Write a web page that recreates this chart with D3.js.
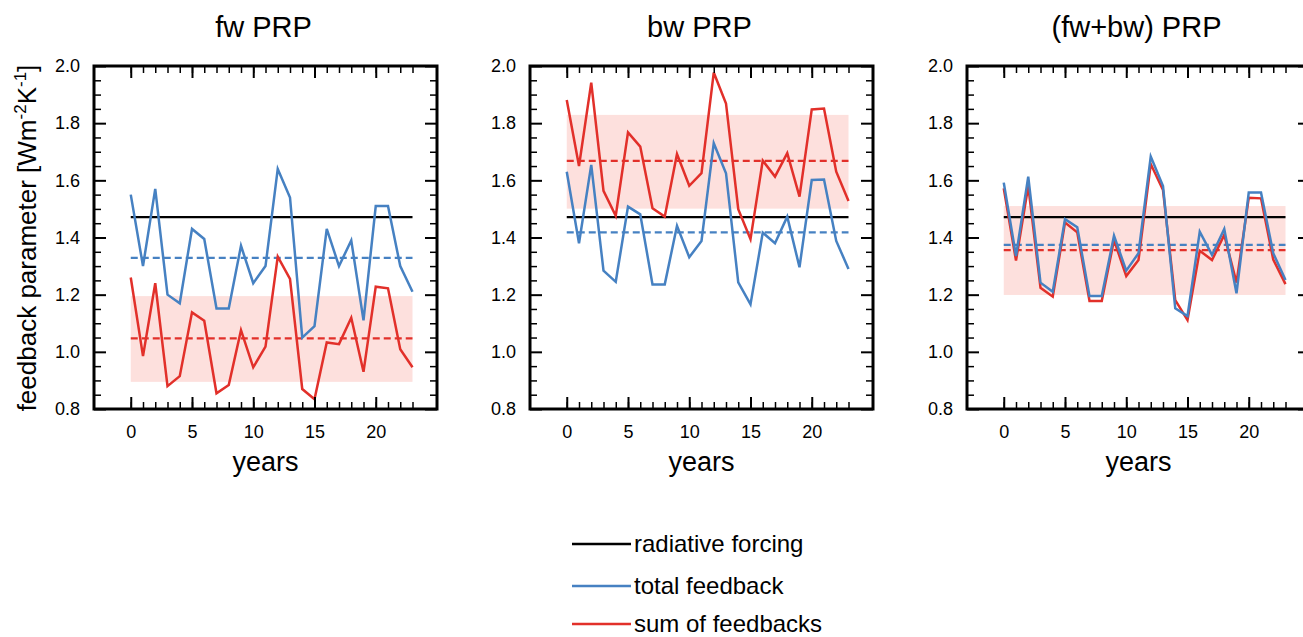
<!DOCTYPE html>
<html>
<head>
<meta charset="utf-8">
<script src="https://cdn.jsdelivr.net/npm/d3@7"></script>
<style>
  html, body { margin: 0; padding: 0; background: #fff; }
  svg { display: block; font-family: "Liberation Sans", Arial, Helvetica, sans-serif; }
</style>
</head>
<body>
<svg id="chart" width="1303" height="637"></svg>
<script>
// ---------------- data ----------------
const years = [0,1,2,3,4,5,6,7,8,9,10,11,12,13,14,15,16,17,18,19,20,21,22,23];
const panelTitles = ["fw PRP", "bw PRP", "(fw+bw) PRP"];

const fwTotal = [1.55,1.30,1.57,1.20,1.17,1.43,1.395,1.152,1.152,1.371,1.24,1.30,1.64,1.54,1.05,1.09,1.43,1.30,1.39,1.11,1.51,1.51,1.30,1.21];
const fwSum   = [1.26,0.985,1.24,0.88,0.915,1.138,1.109,0.855,0.884,1.076,0.946,1.018,1.333,1.255,0.87,0.834,1.033,1.027,1.119,0.93,1.228,1.222,1.009,0.946];

const bwTotal = [1.63,1.38,1.654,1.284,1.245,1.508,1.481,1.236,1.236,1.441,1.331,1.388,1.73,1.625,1.243,1.166,1.417,1.38,1.473,1.296,1.601,1.603,1.388,1.29];
const bwSum   = [1.881,1.65,1.942,1.563,1.476,1.768,1.718,1.502,1.473,1.692,1.581,1.625,1.977,1.869,1.499,1.394,1.669,1.613,1.695,1.543,1.848,1.851,1.63,1.528];

const fwbwTotal = [1.592,1.335,1.613,1.242,1.21,1.464,1.436,1.195,1.195,1.406,1.284,1.345,1.683,1.58,1.152,1.125,1.42,1.339,1.43,1.205,1.557,1.557,1.345,1.251];
const fwbwSum   = [1.572,1.319,1.58,1.224,1.193,1.452,1.418,1.178,1.178,1.391,1.265,1.321,1.657,1.566,1.181,1.111,1.354,1.321,1.409,1.242,1.539,1.537,1.323,1.237];

const forcing   = [1.471, 1.471, 1.471];
const totalMean = [1.329, 1.418, 1.374];
const sumMean   = [1.047, 1.668, 1.356];
const shadeLow  = [0.895, 1.501, 1.199];
const shadeHigh = [1.195, 1.829, 1.510];

const xMajorTicks = [0, 5, 10, 15, 20];
const yMajorTicks = [0.8, 1.0, 1.2, 1.4, 1.6, 1.8, 2.0];
const yMinorTicks = [0.85,0.9,0.95,1.05,1.1,1.15,1.25,1.3,1.35,1.45,1.5,1.55,1.65,1.7,1.75,1.85,1.9,1.95];

const legendItems = ["radiative forcing", "total feedback", "sum of feedbacks"];

const totals = [fwTotal, bwTotal, fwbwTotal];
const sums = [fwSum, bwSum, fwbwSum];

// ---------------- style ----------------
const BLUE = "#4681c2";
const RED = "#e2302a";
const SHADE = "#fde0dd";
const legendColors = ["#000000", BLUE, RED];

const panelLefts = [94, 530, 967];
const plotW = 343, plotTop = 66, plotBottom = 409;

const svg = d3.select("#chart");

const y = d3.scaleLinear().domain([0.8, 2.0]).range([plotBottom, plotTop]);

panelLefts.forEach((left, p) => {
  const x = d3.scaleLinear().domain([-3, 25]).range([left, left + plotW]);
  const g = svg.append("g");
  const x0 = years[0], x1 = years[years.length - 1];

  // shaded band
  g.append("rect")
    .attr("x", x(x0)).attr("width", x(x1) - x(x0))
    .attr("y", y(shadeHigh[p])).attr("height", y(shadeLow[p]) - y(shadeHigh[p]))
    .attr("fill", SHADE);

  // dashed means
  [[totalMean[p], BLUE], [sumMean[p], RED]].forEach(([v, c]) => {
    g.append("line")
      .attr("x1", x(x0)).attr("x2", x(x1))
      .attr("y1", y(v)).attr("y2", y(v))
      .attr("stroke", c).attr("stroke-width", 2.3)
      .attr("stroke-dasharray", "7,4");
  });

  // forcing line
  g.append("line")
    .attr("x1", x(x0)).attr("x2", x(x1))
    .attr("y1", y(forcing[p])).attr("y2", y(forcing[p]))
    .attr("stroke", "#000").attr("stroke-width", 2.3);

  const line = d3.line().x((d, i) => x(years[i])).y(d => y(d));
  g.append("path").datum(sums[p])
    .attr("d", line).attr("fill", "none")
    .attr("stroke", RED).attr("stroke-width", 2.5).attr("stroke-linejoin", "miter");
  g.append("path").datum(totals[p])
    .attr("d", line).attr("fill", "none")
    .attr("stroke", BLUE).attr("stroke-width", 2.5).attr("stroke-linejoin", "miter");

  // axes (ticks inward)
  const tickStyle = sel => {
    sel.select(".domain").remove();
    sel.selectAll("line").attr("stroke", "#000").attr("stroke-width", 2);
  };
  const minorStyle = sel => {
    sel.select(".domain").remove();
    sel.selectAll("line").attr("stroke", "#000").attr("stroke-width", 1.5);
    sel.selectAll("text").remove();
  };

  // bottom
  g.append("g").attr("transform", `translate(0,${plotBottom})`)
    .call(d3.axisBottom(x).tickValues(years).tickSize(-7)).call(minorStyle);
  g.append("g").attr("transform", `translate(0,${plotBottom})`)
    .call(d3.axisBottom(x).tickValues(xMajorTicks).tickSize(-12).tickPadding(16).tickFormat(d3.format("d")))
    .call(tickStyle)
    .selectAll("text").attr("font-size", 18).attr("fill", "#000")
    .attr("font-family", "Liberation Sans, Arial, sans-serif");
  // top
  g.append("g").attr("transform", `translate(0,${plotTop})`)
    .call(d3.axisTop(x).tickValues(years).tickSize(-7)).call(minorStyle);
  g.append("g").attr("transform", `translate(0,${plotTop})`)
    .call(d3.axisTop(x).tickValues(xMajorTicks).tickSize(-12)).call(tickStyle)
    .selectAll("text").remove();
  // left
  g.append("g").attr("transform", `translate(${left},0)`)
    .call(d3.axisLeft(y).tickValues(yMinorTicks).tickSize(-7)).call(minorStyle);
  g.append("g").attr("transform", `translate(${left},0)`)
    .call(d3.axisLeft(y).tickValues(yMajorTicks).tickSize(-12).tickPadding(14).tickFormat(d3.format(".1f")))
    .call(tickStyle)
    .selectAll("text").attr("font-size", 18).attr("fill", "#000")
    .attr("font-family", "Liberation Sans, Arial, sans-serif");
  // right
  g.append("g").attr("transform", `translate(${left + plotW},0)`)
    .call(d3.axisRight(y).tickValues(yMinorTicks).tickSize(-7)).call(minorStyle);
  g.append("g").attr("transform", `translate(${left + plotW},0)`)
    .call(d3.axisRight(y).tickValues(yMajorTicks).tickSize(-12)).call(tickStyle)
    .selectAll("text").remove();

  // frame
  g.append("rect")
    .attr("x", left).attr("y", plotTop).attr("width", plotW).attr("height", plotBottom - plotTop)
    .attr("fill", "none").attr("stroke", "#000").attr("stroke-width", 3);

  // title
  g.append("text")
    .attr("x", left + plotW / 2 - 2).attr("y", 37)
    .attr("text-anchor", "middle").attr("font-size", 29)
    .text(panelTitles[p]);

  // x label
  g.append("text")
    .attr("x", left + plotW / 2).attr("y", 471)
    .attr("text-anchor", "middle").attr("font-size", 27)
    .text("years");
});

// y label
const yl = svg.append("text")
  .attr("transform", "translate(36,238) rotate(-90)")
  .attr("text-anchor", "middle").attr("font-size", 26);
yl.append("tspan").text("feedback parameter [Wm");
yl.append("tspan").attr("dy", -10).attr("font-size", 17).text("-2");
yl.append("tspan").attr("dy", 10).text("K");
yl.append("tspan").attr("dy", -10).attr("font-size", 17).text("-1");
yl.append("tspan").attr("dy", 10).text("]");

// legend
const legendY = [544, 586, 624];
const lg = svg.append("g");
legendItems.forEach((name, i) => {
  lg.append("line")
    .attr("x1", 572).attr("x2", 631)
    .attr("y1", legendY[i]).attr("y2", legendY[i])
    .attr("stroke", legendColors[i]).attr("stroke-width", 2.5);
  lg.append("text")
    .attr("x", 634).attr("y", legendY[i]).attr("dy", "0.35em")
    .attr("font-size", 24).text(name);
});
</script>
</body>
</html>
